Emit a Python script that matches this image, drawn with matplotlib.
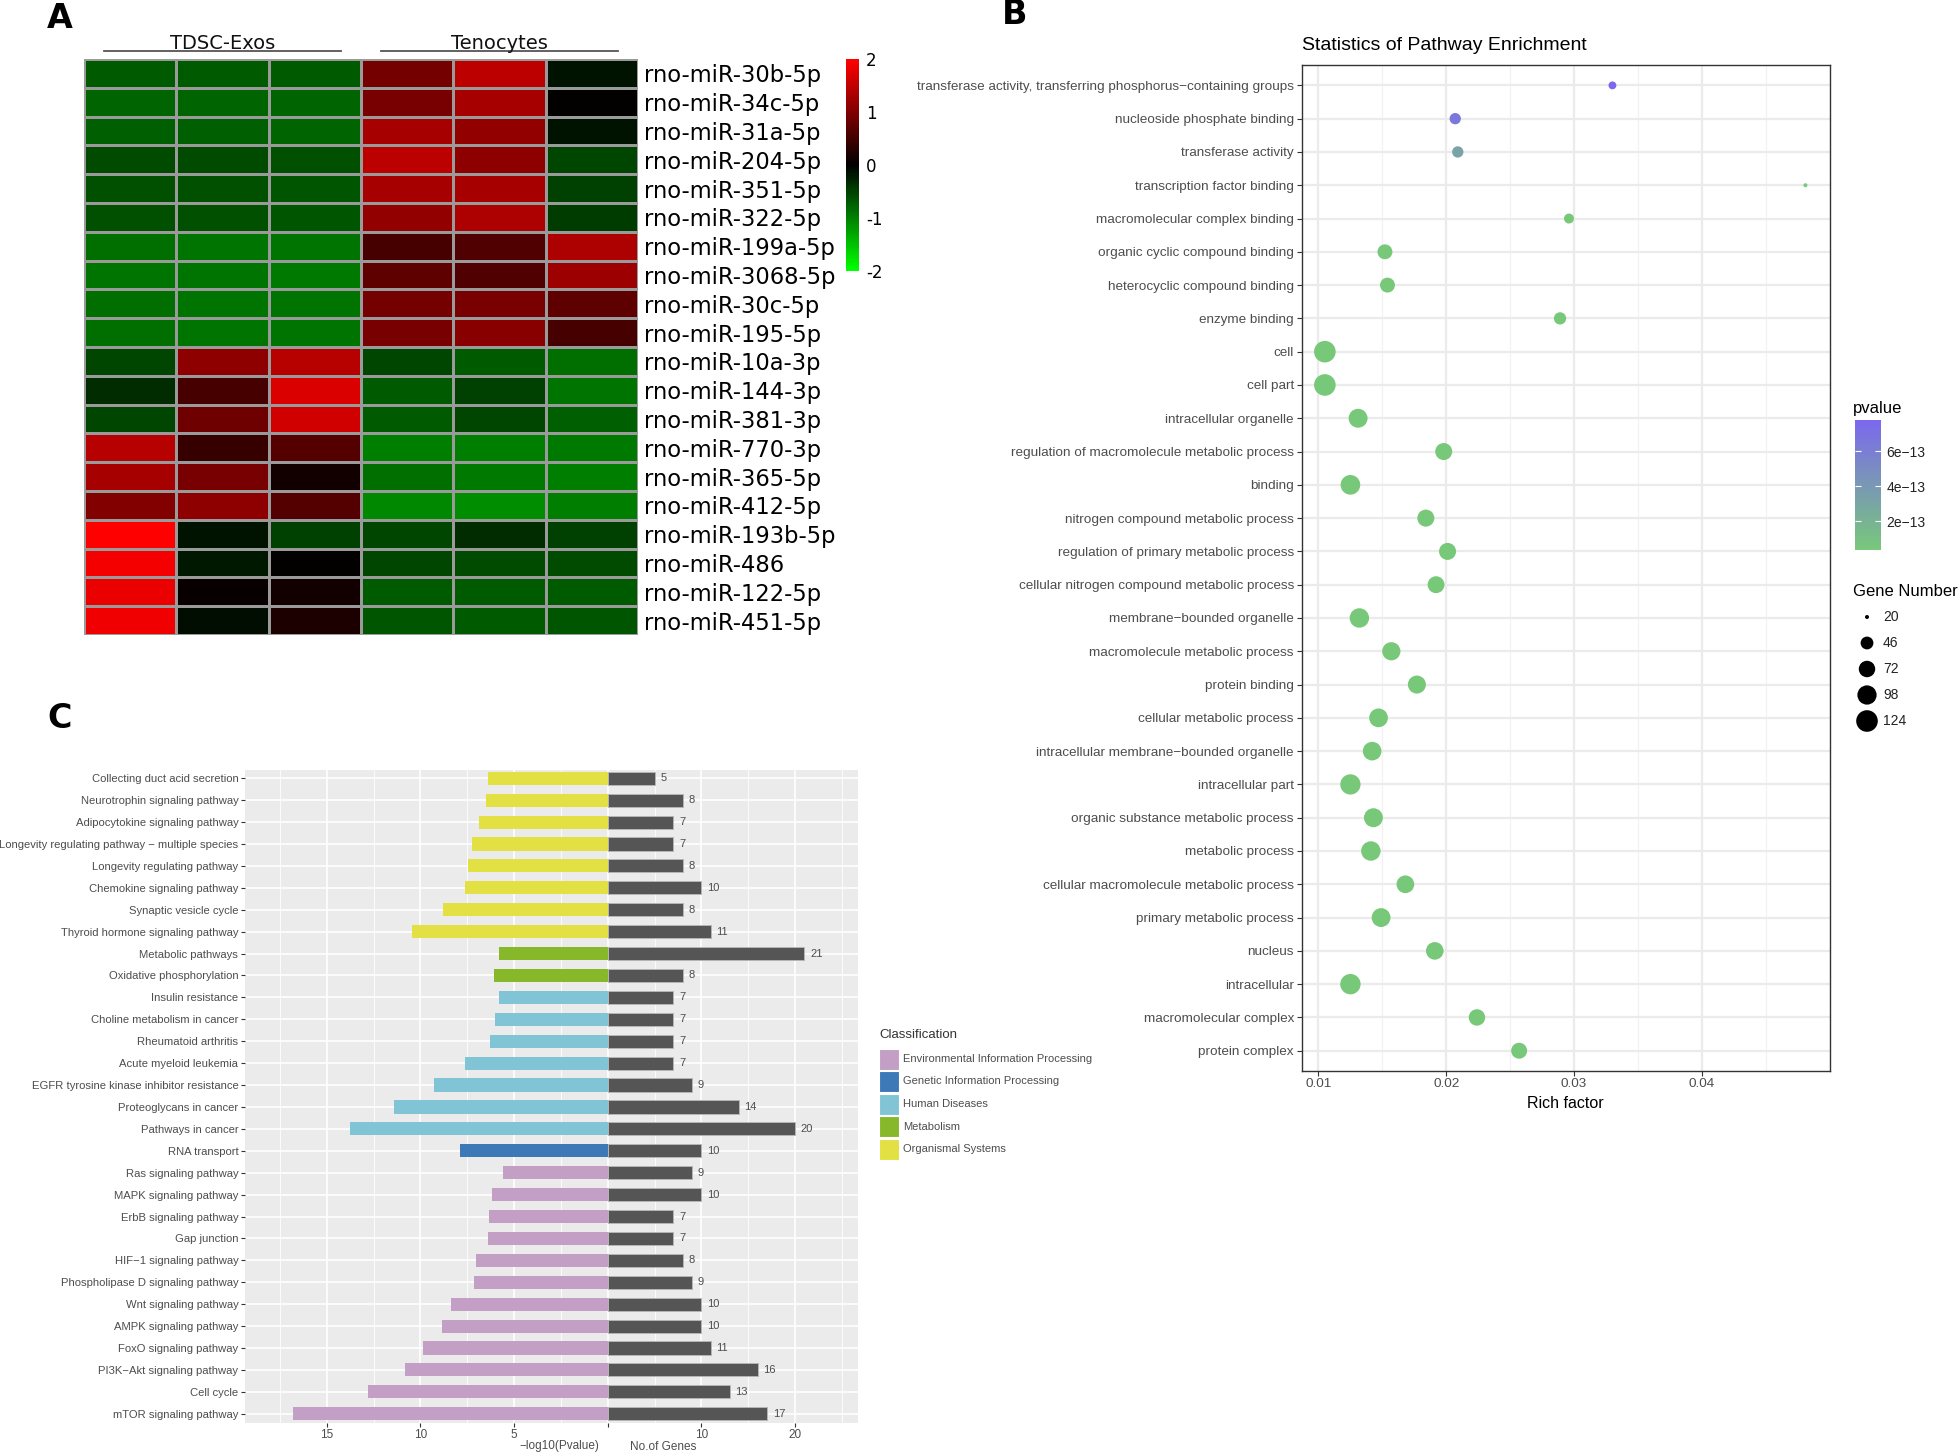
import numpy as np
import matplotlib
matplotlib.use("Agg")
import matplotlib.pyplot as plt
from matplotlib.colors import LinearSegmentedColormap, Normalize
from matplotlib.cm import ScalarMappable
from matplotlib.patches import Rectangle

W, H, DPI = 1960, 1454, 100
plt.rcParams["font.family"] = ["Liberation Sans", "DejaVu Sans"]

# ---------------- Panel A data ----------------
mirnas = ["rno-miR-30b-5p", "rno-miR-34c-5p", "rno-miR-31a-5p", "rno-miR-204-5p",
          "rno-miR-351-5p", "rno-miR-322-5p", "rno-miR-199a-5p", "rno-miR-3068-5p",
          "rno-miR-30c-5p", "rno-miR-195-5p", "rno-miR-10a-3p", "rno-miR-144-3p",
          "rno-miR-381-3p", "rno-miR-770-3p", "rno-miR-365-5p", "rno-miR-412-5p",
          "rno-miR-193b-5p", "rno-miR-486", "rno-miR-122-5p", "rno-miR-451-5p"]
groups = ["TDSC-Exos", "Tenocytes"]
heat_values = [
    [-0.70, -0.70, -0.72, 0.90, 1.45, -0.15],
    [-0.77, -0.80, -0.80, 0.95, 1.30, 0.00],
    [-0.75, -0.75, -0.78, 1.30, 1.15, -0.15],
    [-0.58, -0.58, -0.62, 1.45, 1.10, -0.55],
    [-0.62, -0.62, -0.66, 1.30, 1.30, -0.50],
    [-0.62, -0.62, -0.66, 1.15, 1.35, -0.45],
    [-0.88, -0.90, -0.92, 0.55, 0.62, 1.35],
    [-0.92, -0.92, -0.94, 0.75, 0.62, 1.20],
    [-0.88, -0.90, -0.90, 0.90, 0.95, 0.75],
    [-0.88, -0.90, -0.90, 0.95, 1.05, 0.55],
    [-0.55, 1.10, 1.40, -0.55, -0.70, -0.85],
    [-0.35, 0.55, 1.70, -0.70, -0.50, -0.90],
    [-0.55, 0.85, 1.60, -0.70, -0.55, -0.75],
    [1.40, 0.40, 0.65, -1.00, -1.00, -0.95],
    [1.30, 0.95, 0.15, -0.85, -0.95, -1.00],
    [1.00, 1.10, 0.65, -1.05, -1.10, -1.00],
    [2.00, -0.15, -0.50, -0.55, -0.35, -0.50],
    [1.90, -0.20, 0.00, -0.55, -0.60, -0.60],
    [1.80, 0.05, 0.15, -0.70, -0.70, -0.70],
    [1.85, -0.10, 0.20, -0.65, -0.70, -0.65],
]
heat_ticks = [2, 1, 0, -1, -2]

# ---------------- Panel B data ----------------
go_terms = ["transferase activity, transferring phosphorus\u2212containing groups",
            "nucleoside phosphate binding", "transferase activity",
            "transcription factor binding", "macromolecular complex binding",
            "organic cyclic compound binding", "heterocyclic compound binding",
            "enzyme binding", "cell", "cell part", "intracellular organelle",
            "regulation of macromolecule metabolic process", "binding",
            "nitrogen compound metabolic process", "regulation of primary metabolic process",
            "cellular nitrogen compound metabolic process", "membrane\u2212bounded organelle",
            "macromolecule metabolic process", "protein binding", "cellular metabolic process",
            "intracellular membrane\u2212bounded organelle", "intracellular part",
            "organic substance metabolic process", "metabolic process",
            "cellular macromolecule metabolic process", "primary metabolic process",
            "nucleus", "intracellular", "macromolecular complex", "protein complex"]
rich_factor = [0.0330, 0.0207, 0.0209, 0.0481, 0.0296, 0.0152, 0.0154, 0.0289,
               0.0105, 0.0105, 0.0131, 0.0198, 0.0125, 0.0184, 0.0201,
               0.0192, 0.0132, 0.0157, 0.0177, 0.0147, 0.0142, 0.0125,
               0.0143, 0.0141, 0.0168, 0.0149, 0.0191, 0.0125, 0.0224, 0.0257]
gene_number = [25, 38, 38, 20, 32, 60, 60, 43, 124, 124, 95, 77, 102, 77, 77,
               76, 100, 88, 86, 93, 92, 109, 95, 100, 83, 94, 82, 110, 72, 68]
pvalues = [7.8e-13, 6.6e-13, 3.2e-13, 3.8e-14, 3.9e-14, 3.7e-14, 3.7e-14, 3.8e-14,
           3.6e-14, 3.6e-14, 3.6e-14, 3.7e-14, 3.6e-14, 3.7e-14, 3.7e-14,
           3.7e-14, 3.6e-14, 3.6e-14, 3.7e-14, 3.6e-14, 3.6e-14, 3.6e-14,
           3.6e-14, 3.6e-14, 3.7e-14, 3.6e-14, 3.7e-14, 3.6e-14, 3.8e-14, 3.8e-14]
pvalue_ticks = [2e-13, 4e-13, 6e-13]
pvalue_ticklabels = ["2e\u221213", "4e\u221213", "6e\u221213"]
size_legend_values = [20, 46, 72, 98, 124]
rich_ticks = [0.01, 0.02, 0.03, 0.04]

# ---------------- Panel C data ----------------
pathways = ["Collecting duct acid secretion", "Neurotrophin signaling pathway",
            "Adipocytokine signaling pathway", "Longevity regulating pathway \u2212 multiple species",
            "Longevity regulating pathway", "Chemokine signaling pathway",
            "Synaptic vesicle cycle", "Thyroid hormone signaling pathway",
            "Metabolic pathways", "Oxidative phosphorylation", "Insulin resistance",
            "Choline metabolism in cancer", "Rheumatoid arthritis", "Acute myeloid leukemia",
            "EGFR tyrosine kinase inhibitor resistance", "Proteoglycans in cancer",
            "Pathways in cancer", "RNA transport", "Ras signaling pathway",
            "MAPK signaling pathway", "ErbB signaling pathway", "Gap junction",
            "HIF\u22121 signaling pathway", "Phospholipase D signaling pathway",
            "Wnt signaling pathway", "AMPK signaling pathway", "FoxO signaling pathway",
            "PI3K\u2212Akt signaling pathway", "Cell cycle", "mTOR signaling pathway"]
classification = ["OS"] * 8 + ["M"] * 2 + ["HD"] * 7 + ["GIP"] + ["EIP"] * 12
neg_log10_p = [6.40, 6.52, 6.88, 7.27, 7.48, 7.60, 8.80, 10.45, 5.78, 6.08,
               5.78, 6.02, 6.29, 7.60, 9.28, 11.40, 13.77, 7.87, 5.57, 6.17,
               6.35, 6.41, 7.03, 7.12, 8.38, 8.83, 9.85, 10.81, 12.78, 16.82]
gene_counts = [5, 8, 7, 7, 8, 10, 8, 11, 21, 8, 7, 7, 7, 7, 9, 14, 20, 10, 9, 10,
               7, 7, 8, 9, 10, 10, 11, 16, 13, 17]
class_keys = ["EIP", "GIP", "HD", "M", "OS"]
class_names = ["Environmental Information Processing", "Genetic Information Processing",
               "Human Diseases", "Metabolism", "Organismal Systems"]
class_colors = ["#C39FC5", "#3D79B6", "#80C4D6", "#86B82A", "#E3E043"]
pval_ticks_c = [15, 10, 5]
gene_ticks_c = [10, 20]

fig = plt.figure(figsize=(W / DPI, H / DPI), dpi=DPI)


def px_axes(l, t, r, b):
    return fig.add_axes([l / W, 1 - b / H, (r - l) / W, (b - t) / H])


def fig_text(x, y, s, **kw):
    return fig.text(x / W, 1 - y / H, s, **kw)


# ================= Panel A =================
dv = ["DejaVu Sans"]
axA = px_axes(84, 59, 638, 635)
hm = np.array(heat_values)
cmapA = LinearSegmentedColormap.from_list("gkr", ["#00FF00", "#000000", "#FF0000"], N=100)
mesh = axA.pcolormesh(hm, cmap=cmapA, vmin=-2, vmax=2, edgecolors="#9a9a9a", linewidth=0.8)
axA.set_xlim(0, hm.shape[1])
axA.set_ylim(hm.shape[0], 0)
axA.set_xticks([])
axA.yaxis.tick_right()
axA.set_yticks(np.arange(len(mirnas)) + 0.5)
axA.set_yticklabels(mirnas, fontsize=16.3, family=dv)
axA.tick_params(axis="y", length=0, pad=4)
for s in axA.spines.values():
    s.set_visible(False)
for i, g in enumerate(groups):
    axA.plot([3 * i + 0.22, 3 * i + 2.78], [-0.27, -0.27], color="#555555", lw=1.3,
             clip_on=False)
    axA.text(3 * i + 1.5, -0.36, g, ha="center", va="baseline", fontsize=14, family=dv,
             color="#111111")

caxA = px_axes(846, 59, 859, 271)
cbA = fig.colorbar(mesh, cax=caxA, ticks=heat_ticks)
cbA.outline.set_visible(False)
caxA.set_yticklabels([str(t) for t in heat_ticks], family=dv)
caxA.tick_params(length=0, labelsize=12, pad=5)
fig_text(60, 19, "A", fontsize=24, fontweight="bold", va="center", ha="center", family=dv)

# ================= Panel B =================
axB = px_axes(1301.6, 65.4, 1829.7, 1070.7)
yB = np.arange(len(go_terms))
gmin, gmax = min(gene_number), max(gene_number)


def dot_size(v):
    d_px = 4.0 + 17.6 * np.sqrt((np.asarray(v, float) - gmin) / (gmax - gmin))
    return (d_px * 72 / DPI) ** 2


cmapB = LinearSegmentedColormap.from_list("pv", ["#78C87A", "#7B68EE"])
normB = Normalize(vmin=min(pvalues), vmax=max(pvalues))
axB.scatter(rich_factor, yB, s=dot_size(gene_number), c=pvalues, cmap=cmapB, norm=normB,
            zorder=3, linewidths=0)
axB.set_xlim(0.00868, 0.0500)
axB.set_ylim(len(go_terms) - 0.4, -0.6)
axB.set_yticks(yB)
axB.set_yticklabels(go_terms, fontsize=9.7, color="#4D4D4D")
axB.set_xticks(rich_ticks)
axB.set_xticklabels([f"{t:.2f}" for t in rich_ticks], fontsize=9.7, color="#4D4D4D")
axB.set_xticks([0.015, 0.025, 0.035, 0.045], minor=True)
axB.tick_params(axis="both", which="major", length=3.5, width=0.8, color="#333333", pad=2)
axB.tick_params(axis="x", which="minor", length=0)
axB.grid(True, which="major", color="#EBEBEB", lw=1.6, zorder=0)
axB.grid(True, which="minor", axis="x", color="#F2F2F2", lw=0.9, zorder=0)
axB.set_axisbelow(True)
for s in axB.spines.values():
    s.set_color("#333333")
    s.set_linewidth(1.0)
axB.set_xlabel("Rich factor", fontsize=11.5, labelpad=4)
fig_text(1301.6, 45, "Statistics of Pathway Enrichment", fontsize=14, va="center", ha="left")
fig_text(1015, 15, "B", fontsize=24, fontweight="bold", va="center", ha="center", family=dv)

# pvalue colorbar
caxB = px_axes(1855, 420, 1881, 550)
cbB = fig.colorbar(ScalarMappable(norm=normB, cmap=cmapB), cax=caxB, ticks=pvalue_ticks)
cbB.outline.set_visible(False)
caxB.set_yticklabels(pvalue_ticklabels)
caxB.yaxis.set_ticks_position("both")
caxB.tick_params(which="major", direction="in", length=4, width=0.8, color="white",
                 labelsize=10, labelcolor="#222222", pad=4)
caxB.tick_params(which="minor", length=0)
fig_text(1853, 409, "pvalue", fontsize=12, va="center", ha="left")

# size legend
fig_text(1853, 591, "Gene Number", fontsize=12, va="center", ha="left")
axS = px_axes(1850, 604, 1960, 734)
axS.set_xlim(0, 110)
axS.set_ylim(len(size_legend_values) - 0.5, -0.5)
axS.axis("off")
axS.scatter([17] * len(size_legend_values), np.arange(len(size_legend_values)),
            s=dot_size(size_legend_values), color="black", linewidths=0, clip_on=False)
for i, v in enumerate(size_legend_values):
    axS.text(33, i, str(v), fontsize=10, va="center", ha="left", color="#222222")

# ================= Panel C =================
axC = px_axes(245.2, 769.5, 857.5, 1422.5)
axC.set_facecolor("#EBEBEB")
yC = np.arange(len(pathways))
color_map = dict(zip(class_keys, class_colors))
left_vals = -2.0 * np.array(neg_log10_p)     # left half uses doubled scale
axC.barh(yC, left_vals, height=0.6, color=[color_map[c] for c in classification],
         linewidth=0, zorder=3)
axC.barh(yC, gene_counts, height=0.6, color="#555555", edgecolor="#B5B5B5",
         linewidth=0.7, zorder=3)
for yi, g in zip(yC, gene_counts):
    axC.text(g + 0.6, yi, str(g), fontsize=8, color="#4D4D4D", va="center", ha="left",
             zorder=4)
axC.set_xlim(-38.7, 26.66)
axC.set_ylim(len(pathways) - 0.6, -0.4)
xt = [-2 * v for v in pval_ticks_c] + [0] + gene_ticks_c
axC.set_xticks(xt)
axC.set_xticklabels([str(v) for v in pval_ticks_c] + [""] + [str(v) for v in gene_ticks_c],
                    fontsize=8.5, color="#4D4D4D")
axC.set_xticks([-35, -25, -15, -5, 5, 15, 25], minor=True)
axC.set_yticks(yC)
axC.set_yticklabels(pathways, fontsize=8.1, color="#4D4D4D")
axC.tick_params(axis="both", which="major", length=3, width=0.8, color="#333333", pad=2)
axC.tick_params(axis="x", which="minor", length=0)
axC.grid(True, which="major", color="white", lw=1.2, zorder=0)
axC.grid(True, which="minor", axis="x", color="white", lw=0.6, zorder=0)
axC.set_axisbelow(True)
for s in axC.spines.values():
    s.set_visible(False)
fig_text(559.5, 1446.5, "\u2212log10(Pvalue)", fontsize=8.5, color="#4D4D4D", ha="center",
         va="center")
fig_text(663, 1446.5, "No.of Genes", fontsize=8.5, color="#4D4D4D", ha="center",
         va="center")
fig_text(60, 719, "C", fontsize=24, fontweight="bold", va="center", ha="center", family=dv)

# classification legend
axL = px_axes(870, 1020, 1130, 1170)
axL.set_xlim(870, 1130)
axL.set_ylim(1170, 1020)
axL.axis("off")
axL.text(879, 1035, "Classification", fontsize=9.5, color="#333333", va="center", ha="left")
for k, (nm, col) in enumerate(zip(class_names, class_colors)):
    yc = 1059 + 22.5 * k
    axL.add_patch(Rectangle((879, yc - 10.5), 20, 21, facecolor=col, edgecolor="white",
                            lw=0.8))
    axL.text(903, yc, nm, fontsize=8, color="#4D4D4D", va="center", ha="left")

fig.savefig("out.png", dpi=DPI)
